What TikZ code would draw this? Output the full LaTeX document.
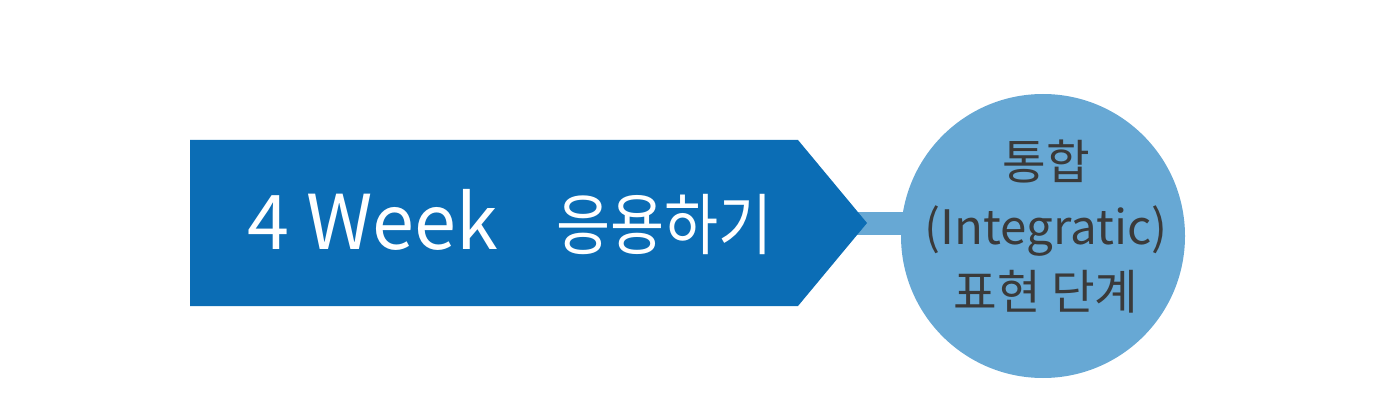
\documentclass[tikz,border=0pt]{standalone}
\usepackage{fontspec}
\setmainfont{Noto Sans CJK KR}
\usetikzlibrary{calc,positioning,backgrounds}
\definecolor{weekBlue}{RGB}{11,109,181}
\definecolor{stageBlue}{RGB}{103,168,212}
\definecolor{stageText}{RGB}{58,58,58}

\begin{document}
\begin{tikzpicture}[x=0.02cm, y=-0.02cm,
  weekbox/.style={fill=weekBlue, draw=none},
  weektext/.style={text=white, inner sep=0pt},
  stagecircle/.style={circle, fill=stageBlue, minimum size=284*0.02cm, inner sep=0pt},
  stagetext/.style={text=stageText, font=\fontsize{27}{37}\selectfont, align=center, inner sep=0pt},
  link/.style={stageBlue, line width=23*0.02cm}]
\useasboundingbox (0,0) rectangle (1400,402);

% week banner with pointed end
\fill[weekbox] (190,140) -- (798,140) -- (867,223) -- (798,306) -- (190,306) -- cycle;
\coordinate (tip) at (867,223);
\node[weektext] (week) at (510,222)
  {{\fontsize{43}{46}\selectfont 4 Week}\hspace{33pt}\scalebox{0.88}[1]{\fontsize{38}{42}\selectfont 응용하기}};

% stage circle
\node[stagecircle] (stage) at (1043,236) {};
\node[stagetext] (stagelabel) at ($(stage.center)+(3,-9)$) {통합\\(Integratic)\\표현 단계};

\begin{scope}[on background layer]
\draw[link] ($(tip)+(-15,0)$) -- (tip -| stage.center);
\end{scope}
\end{tikzpicture}
\end{document}
